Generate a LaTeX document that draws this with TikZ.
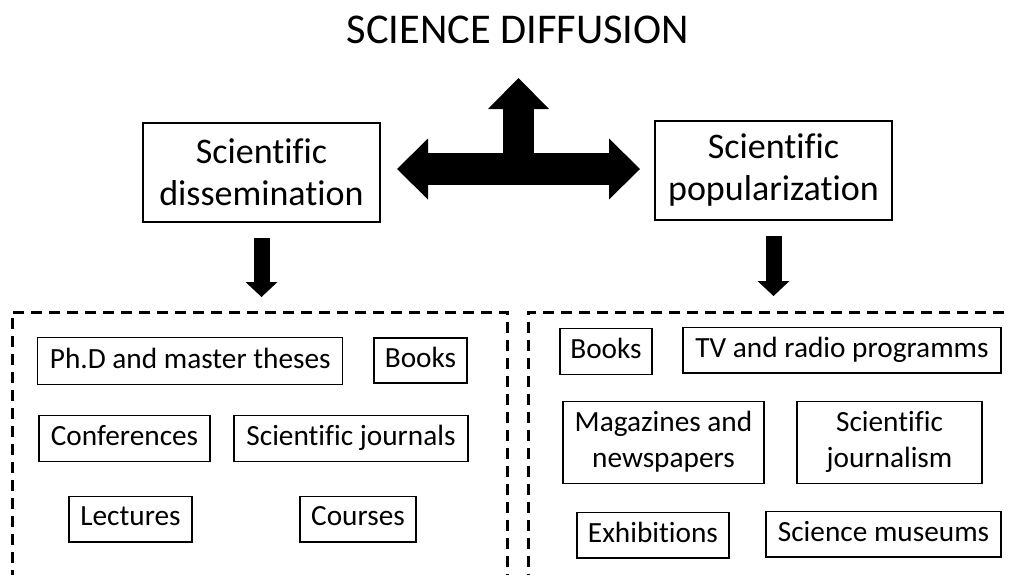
\documentclass[tikz,border=0pt]{standalone}
\usepackage{fontspec}
\setmainfont{Carlito}[Ligatures=NoCommon]
\usetikzlibrary{arrows.meta}

\tikzset{
  item/.style 2 args={draw, line width=1.3pt, inner sep=0pt, align=center,
    minimum width=#1pt, minimum height=#2pt, font=\fontsize{29.3}{36}\selectfont,
    execute at begin node={\rule[-6pt]{0pt}{24pt}}},
  twoline/.style={execute at begin node={}},
  head/.style={draw, line width=2.2pt, inner sep=0pt, align=center,
    minimum width=237pt, minimum height=99pt, font=\fontsize{36}{42}\selectfont},
  group/.style={draw, line width=2.5pt, dash pattern=on 11pt off 7pt, inner sep=0pt,
    anchor=north west},
  fat/.style={line width=16pt, -{Triangle[width=32pt,length=15pt,line width=0pt]}},
  wide/.style={line width=32pt,
    {Triangle[width=61pt,length=31pt,line width=0pt]}-{Triangle[width=61pt,length=31pt,line width=0pt]}},
  up/.style={line width=31pt, -{Triangle[width=61pt,length=31pt,line width=0pt]}},
}

\begin{document}
\begin{tikzpicture}[x=1pt, y=-1pt]
    \useasboundingbox (0,0) rectangle (1011,574);
    \clip (0,0) rectangle (1011,574);

    % title and the two branches
    \node[font=\fontsize{42.4}{48}\selectfont] (title) at (518,30) {SCIENCE DIFFUSION};
    \node[head] (dissem) at (261.5,172.5) {Scientific\\dissemination};
    \node[head] (popul) at (773.5,170.5) {Scientific\\popularization};

    % T-shaped arrow between the branches
    \coordinate (tl) at (397,169);
    \coordinate (tr) at (640,169);
    \coordinate (tm) at (518.5,169);
    \coordinate (tt) at (518.5,78);
    \draw[wide] (tl) -- (tr);
    \draw[up] (tm) -- (tt);

    % dashed groups (open at the bottom)
    \node[group, minimum width=495pt, minimum height=300pt] (lgroup) at (11,311) {};
    \node[group, minimum width=520pt, minimum height=300pt] (rgroup) at (527,311) {};

    \coordinate (ltip) at (dissem.south |- lgroup.north);
    \coordinate (rtip) at (popul.south |- rgroup.north);
    \draw[fat] ([yshift=-15pt]dissem.south) -- ([yshift=14pt]ltip);
    \draw[fat] ([yshift=-15pt]popul.south) -- ([yshift=15pt]rtip);

    % dissemination channels
    \node[item={305}{46.6}] (phd) at (190.3,361) {Ph.D and master theses};
    \node[item={93}{45}] (lbooks) at (420.5,360.5) {Books};
    \node[item={171}{45.6}] (conf) at (124.5,438.5) {Conferences};
    \node[item={234}{45.6}] (journals) at (351,438.5) {Scientific journals};
    \node[item={123}{45.3}] (lectures) at (130.5,519.3) {Lectures};
    \node[item={116}{45.3}] (courses) at (358,519.3) {Courses};

    % popularization channels
    \node[item={92}{45.6}] (rbooks) at (606,351.5) {Books};
    \node[item={318}{45.3}] (tv) at (842,350.3) {TV and radio programms};
    \node[item={201}{81.6}, twoline] (mags) at (663.5,442.5) {Magazines and\\newspapers};
    \node[item={185}{81.6}, twoline] (sjourn) at (889.5,442.5) {Scientific\\journalism};
    \node[item={152}{45.3}] (exhib) at (653,535.3) {Exhibitions};
    \node[item={235}{45.3}] (museums) at (883.5,534.3) {Science museums};
\end{tikzpicture}
\end{document}
